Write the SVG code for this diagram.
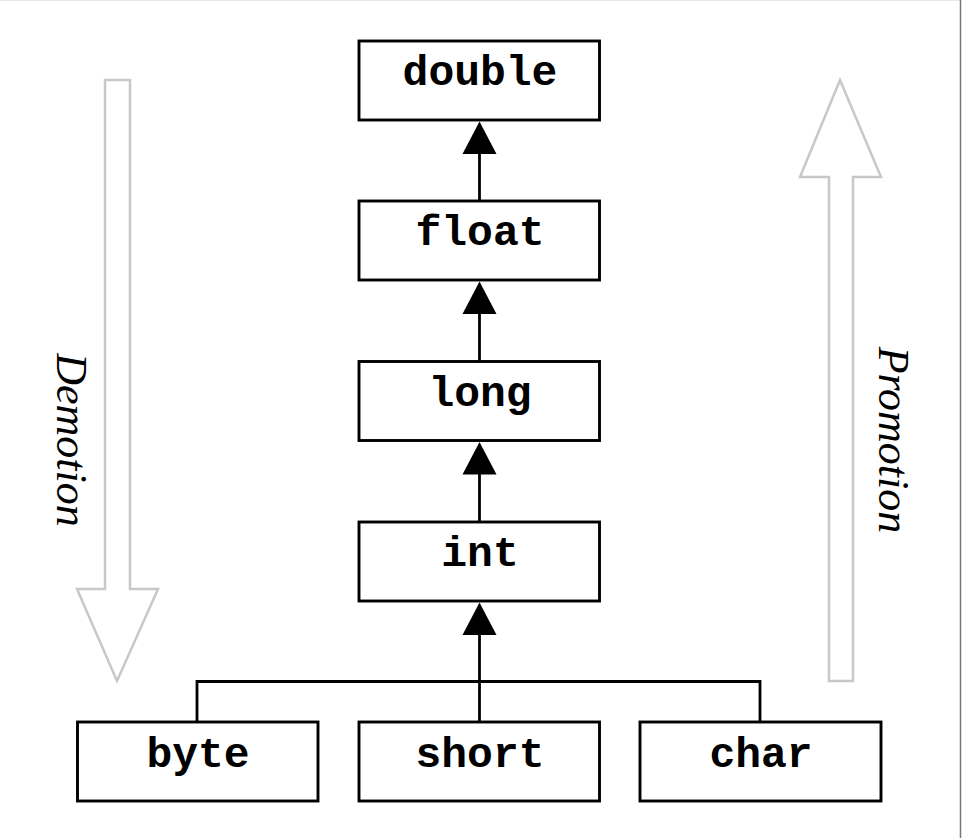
<svg xmlns="http://www.w3.org/2000/svg" width="962" height="838" viewBox="0 0 962 838">
<style>
.box{fill:#fff;stroke:#000;stroke-width:2.9}
.lbl{font-family:"Courier New","Nimbus Mono PS","FreeMono","Liberation Mono",monospace;font-weight:bold;font-size:43px;text-anchor:middle;fill:#000}
.conn{fill:none;stroke:#000;stroke-width:2.8}
.head{fill:#000;stroke:none}
.big{fill:#fff;stroke:#c8c8c8;stroke-width:2.5;stroke-linejoin:miter}
.side{font-family:"Liberation Serif","Times New Roman",serif;font-style:italic;font-size:44px;text-anchor:middle;fill:#000}
</style>
<rect x="0" y="0" width="962" height="838" fill="#fff"/>
<line x1="0" y1="0.5" x2="960" y2="0.5" stroke="#e8e8e8" stroke-width="1"/>
<line x1="960.5" y1="0" x2="960.5" y2="838" stroke="#777" stroke-width="1.5"/>

<g id="demotion-arrow">
<path class="big" d="M105,80 L130,80 L130,589 L158,589 L117,681 L77,589 L105,589 Z"/>
<text class="side" transform="translate(57,440) rotate(90)">Demotion</text>
</g>
<g id="promotion-arrow">
<path class="big" d="M829,681 L853,681 L853,177 L881,177 L840,80 L800,177 L829,177 Z"/>
<text class="side" transform="translate(879,440) rotate(90)">Promotion</text>
</g>

<g id="connectors">
<line class="conn" x1="479.5" y1="200" x2="479.5" y2="152"/>
<polygon class="head" points="479.5,121.5 462.5,154 496.5,154"/>
<line class="conn" x1="479.5" y1="361" x2="479.5" y2="312"/>
<polygon class="head" points="479.5,281.5 462.5,314 496.5,314"/>
<line class="conn" x1="479.5" y1="521" x2="479.5" y2="473"/>
<polygon class="head" points="479.5,442 462.5,474.5 496.5,474.5"/>
<line class="conn" x1="479.5" y1="721" x2="479.5" y2="633"/>
<polygon class="head" points="479.5,602.5 462.5,635 496.5,635"/>
<polyline class="conn" points="197,721 197,681.5 760,681.5 760,721"/>
</g>

<g id="double"><rect class="box" x="359" y="41" width="240.5" height="79"/><text class="lbl" x="480" y="85">double</text></g>
<g id="float"><rect class="box" x="359" y="201" width="240.5" height="79"/><text class="lbl" x="480" y="245">float</text></g>
<g id="long"><rect class="box" x="359" y="361.5" width="240.5" height="79"/><text class="lbl" x="480" y="405.5">long</text></g>
<g id="int"><rect class="box" x="359" y="522" width="240.5" height="79"/><text class="lbl" x="480" y="566">int</text></g>
<g id="byte"><rect class="box" x="77.5" y="722" width="240.5" height="79"/><text class="lbl" x="198" y="766.5">byte</text></g>
<g id="short"><rect class="box" x="359" y="722" width="240.5" height="79"/><text class="lbl" x="480" y="766.5">short</text></g>
<g id="char"><rect class="box" x="640" y="722" width="241" height="79"/><text class="lbl" x="761" y="766.5">char</text></g>
</svg>
